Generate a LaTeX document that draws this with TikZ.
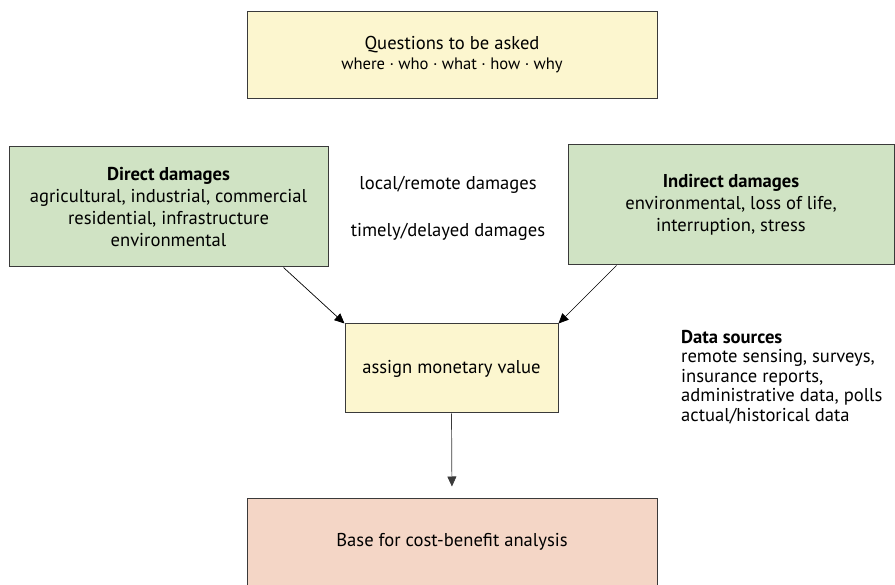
\documentclass[tikz,border=0pt]{standalone}
\usepackage{fontspec}
\setmainfont{PT Sans}
\usetikzlibrary{arrows.meta}
\definecolor{boxyellow}{HTML}{FCF6CF}
\definecolor{boxgreen}{HTML}{D0E3C4}
\definecolor{boxpink}{HTML}{F4D6C6}
\definecolor{boxedge}{HTML}{3A3A3A}
\begin{document}
\begin{tikzpicture}[x=1pt,y=-1pt,
        box/.style={draw=boxedge,line width=1pt,align=center,inner sep=0pt,font=\fontsize{18.6}{22}\selectfont},
        note/.style={inner sep=0pt,font=\fontsize{18.6}{22}\selectfont},
        link/.style={draw=black,line width=0.7pt,-{Triangle[length=10pt,width=9pt]}}]
        \useasboundingbox (0,0) rectangle (895,585);
        \node[box,fill=boxyellow,minimum width=410pt,minimum height=87pt] at (452,55) (qu) {Questions to be asked\\[-2pt]{\fontsize{16.6}{18}\selectfont where · who · what · how · why}};
        \node[box,fill=boxgreen,minimum width=319pt,minimum height=120pt] at (168.5,207) (dd) {\textbf{Direct damages}\\agricultural, industrial, commercial\\residential, infrastructure\\environmental};
        \node[box,fill=boxgreen,minimum width=326pt,minimum height=120pt] at (731,205) (id) {\textbf{Indirect damages}\\environmental, loss of life,\\interruption, stress};
        \node[note] at (448,185) (lr) {local/remote damages};
        \node[note] at (448,232) (td) {timely/delayed damages};
        \node[box,fill=boxyellow,minimum width=213pt,minimum height=89pt] at (451.5,368.5) (mv) {assign monetary value};
        \node[note,align=left,anchor=north west,font=\fontsize{18.6}{19.5}\selectfont] at (681,330) (ds) {\textbf{Data sources}\\remote sensing, surveys,\\insurance reports,\\administrative data, polls\\actual/historical data};
        \node[box,fill=boxpink,minimum width=410pt,minimum height=88pt] at (452,542) (cb) {Base for cost-benefit analysis};
        \draw[link] ([xshift=-45pt]dd.south east) -- (mv.north west);
        \draw[link] ([xshift=49pt]id.south west) -- (mv.north east);
        \draw[link,draw=boxedge,shorten >=11pt] (mv.south) -- (cb.north);
    \end{tikzpicture}
\end{document}
